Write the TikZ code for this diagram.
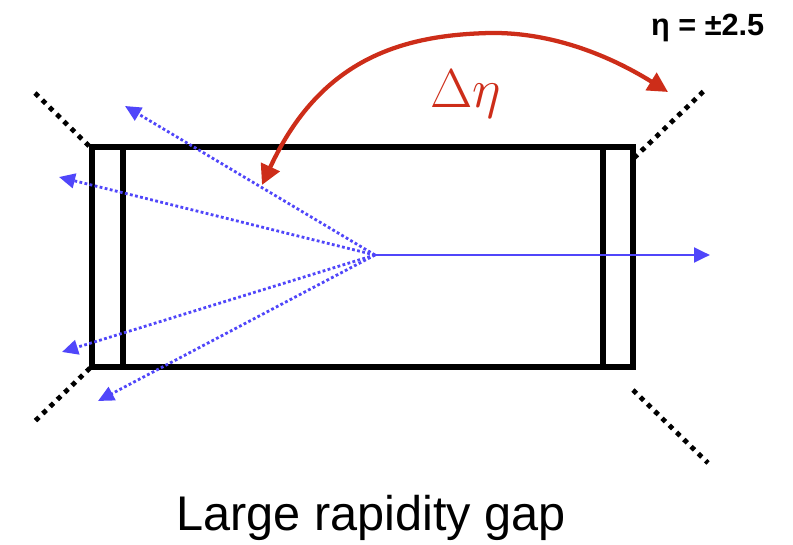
\documentclass[tikz,border=0pt]{standalone}
\usepackage{fontspec}
\setsansfont{Liberation Sans}
\usetikzlibrary{arrows.meta}
\definecolor{pblue}{RGB}{80,70,250}
\definecolor{pred}{RGB}{205,45,25}
\tikzset{
  frame/.style={line width=4pt, line join=miter},
  etaline/.style={line width=3.6pt, dash pattern=on 3.6pt off 4pt},
  track/.style={pblue, line width=2.1pt, dash pattern=on 2.1pt off 1.8pt, -{Triangle[length=12pt,width=11pt]}},
  beam/.style={pblue, line width=2.2pt, -{Triangle[length=12pt,width=11pt]}},
  gaparrow/.style={pred, line width=3.2pt, {Triangle[length=15pt,width=15pt]}-{Triangle[length=15pt,width=15pt]}}
}
\begin{document}
\begin{tikzpicture}[x=0.75pt,y=-0.75pt]
\useasboundingbox (0,0) rectangle (793,545);
% detector
\draw[frame] (92,147) rectangle (633,367);
\draw[frame] (123,147) -- (123,367);
\draw[frame] (603,147) -- (603,367);
% eta = 2.5 lines
\coordinate (tl0) at (35,93);   \coordinate (tl1) at (90,147);
\coordinate (bl0) at (90,368);  \coordinate (bl1) at (33,423);
\coordinate (tr0) at (634,158); \coordinate (tr1) at (707,88);
\coordinate (br0) at (633,390); \coordinate (br1) at (708,463);
\draw[etaline] (tl0) -- (tl1);
\draw[etaline] (bl0) -- (bl1);
\draw[etaline] (tr0) -- (tr1);
\draw[etaline] (br0) -- (br1);
% tracks
\coordinate (O) at (375,255);
\coordinate (t1) at (125,106);
\coordinate (t2) at (59,177);
\coordinate (t3) at (62,352);
\coordinate (t4) at (98,401);
\coordinate (b1) at (710,255);
\draw[beam] (O) -- (b1);
\draw[track] (O) -- (t1);
\draw[track] (O) -- (t2);
\draw[track] (O) -- (t3);
\draw[track] (O) -- (t4);
% rapidity gap arrow
\coordinate (g0) at (262,185);
\coordinate (gp) at (490,33);
\coordinate (g1) at (668,92);
\draw[gaparrow] (g0) .. controls (320,60) and (400,35) .. (gp)
  .. controls (560,32) and (620,62) .. (g1);
\node[pred, font=\Huge, scale=1.65] (deta) at (466,94) {$\Delta\eta$};
\node[font=\sffamily\bfseries\fontsize{23}{27}\selectfont, anchor=east] (etalab) at (769,28) {η = ±2.5};
\node[font=\sffamily\fontsize{36.5}{40}\selectfont] (cap) at (371,518) {Large rapidity gap};
\end{tikzpicture}
\end{document}
